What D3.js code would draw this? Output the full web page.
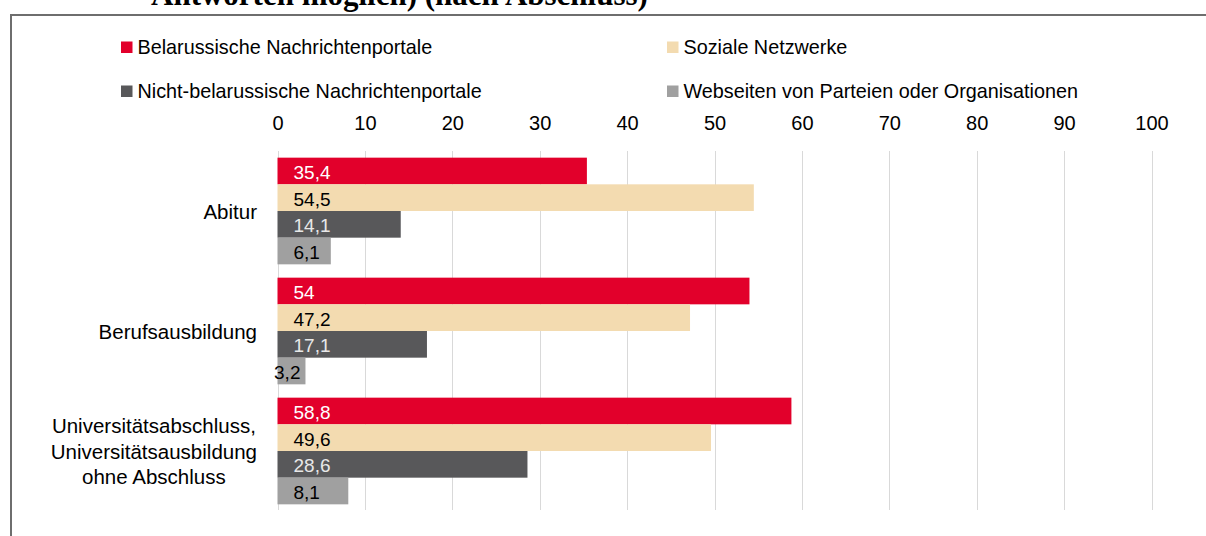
<!DOCTYPE html>
<html>
<head>
<meta charset="utf-8">
<script src="https://cdn.jsdelivr.net/npm/d3@7"></script>
<style>
  html, body { margin: 0; padding: 0; background: #fff; overflow: hidden; }
  svg { display: block; }
</style>
</head>
<body>
<svg id="chart" width="1206" height="536"></svg>
<script>
// ---- data ----
const titleText = "Antworten möglich) (nach Abschluss)";
const categories = [
  ["Abitur"],
  ["Berufsausbildung"],
  ["Universitätsabschluss,", "Universitätsausbildung", "ohne Abschluss"]
];
const seriesNames = [
  "Belarussische Nachrichtenportale",
  "Soziale Netzwerke",
  "Nicht-belarussische Nachrichtenportale",
  "Webseiten von Parteien oder Organisationen"
];
const belarusPortals = [35.4, 54, 58.8];
const socialNetworks = [54.5, 47.2, 49.6];
const foreignPortals = [14.1, 17.1, 28.6];
const partySites = [6.1, 3.2, 8.1];
const tickValues = [0, 10, 20, 30, 40, 50, 60, 70, 80, 90, 100];

const seriesValues = [belarusPortals, socialNetworks, foreignPortals, partySites];
const colors = ["#e2002b", "#f3dbb0", "#58585a", "#a0a0a0"];
const labelColors = ["#ffffff", "#000000", "#e8e8e8", "#000000"];

const FONT = "'Liberation Sans', Arial, sans-serif";
const svg = d3.select("#chart");

// title (clipped at top, as in the reference)
svg.append("text")
  .attr("x", 151).attr("y", 5)
  .attr("font-family", "'Liberation Serif', 'Times New Roman', serif")
  .attr("font-weight", "bold")
  .attr("font-size", 31)
  .attr("fill", "#000")
  .text(titleText);

// frame
svg.append("rect")
  .attr("x", 11).attr("y", 15)
  .attr("width", 1300).attr("height", 600)
  .attr("fill", "none")
  .attr("stroke", "#6e6e6e")
  .attr("stroke-width", 2);

// scales
const x = d3.scaleLinear().domain([0, 100]).range([277.5, 1151.5]);
const y0 = d3.scaleBand().domain(d3.range(categories.length))
  .range([151, 511]).paddingInner(0.111).paddingOuter(0.0555);
const y1 = d3.scaleBand().domain(d3.range(seriesNames.length))
  .range([0, y0.bandwidth()]);

// gridlines
svg.append("g").selectAll("line").data(tickValues).join("line")
  .attr("x1", d => Math.round(x(d)) + 0.5).attr("x2", d => Math.round(x(d)) + 0.5)
  .attr("y1", 151).attr("y2", 510)
  .attr("stroke", "#d9d9d9").attr("stroke-width", 1);

// top axis
const axis = d3.axisTop(x).tickValues(tickValues).tickSize(0).tickPadding(0)
  .tickFormat(d => String(d));
const ag = svg.append("g").attr("transform", "translate(0,130)").call(axis);
ag.select(".domain").remove();
ag.selectAll("text")
  .attr("font-family", FONT).attr("font-size", 20).attr("fill", "#000")
  .attr("dy", 0).attr("y", 0);

// bars
const fmt = v => String(v).replace(".", ",");
const groups = svg.append("g").selectAll("g").data(categories).join("g")
  .attr("transform", (d, i) => `translate(0,${y0(i)})`);

groups.each(function(cat, ci) {
  const g = d3.select(this);
  seriesValues.forEach((vals, si) => {
    const v = vals[ci];
    g.append("rect")
      .attr("x", x(0))
      .attr("y", y1(si))
      .attr("width", x(v) - x(0))
      .attr("height", y1.bandwidth())
      .attr("fill", colors[si]);
  });
  seriesValues.forEach((vals, si) => {
    const v = vals[ci];
    const small = v < 5;
    g.append("text")
      .attr("x", small ? x(v) - 5 : x(0) + 16)
      .attr("y", y1(si) + y1.bandwidth() / 2 + 8)
      .attr("text-anchor", small ? "end" : "start")
      .attr("font-family", FONT).attr("font-size", 19)
      .attr("fill", labelColors[si])
      .text(fmt(v));
  });
});

// category labels
categories.forEach((lines, ci) => {
  const cy = y0(ci) + y0.bandwidth() / 2;
  const lh = 25.5;
  const t = svg.append("text")
    .attr("font-family", FONT).attr("font-size", 20.5).attr("fill", "#000");
  if (lines.length === 1) {
    t.attr("x", 257).attr("y", cy + 7.5).attr("text-anchor", "end").text(lines[0]);
  } else {
    t.attr("text-anchor", "middle");
    const startY = cy + 7.5 - lh * (lines.length - 1) / 2;
    lines.forEach((ln, li) => {
      t.append("tspan").attr("x", 0).attr("y", startY + li * lh).text(ln);
    });
    let w = 0;
    t.selectAll("tspan").each(function() { w = Math.max(w, this.getComputedTextLength()); });
    t.selectAll("tspan").attr("x", 257 - w / 2);
  }
});

// legend
const legendPos = [
  { x: 121, y: 47 }, { x: 667, y: 47 },
  { x: 121, y: 91 }, { x: 667, y: 91 }
];
seriesNames.forEach((name, i) => {
  const p = legendPos[i];
  svg.append("rect")
    .attr("x", p.x).attr("y", p.y - 5.5)
    .attr("width", 11.5).attr("height", 11.5)
    .attr("fill", colors[i]);
  svg.append("text")
    .attr("x", p.x + 16.5).attr("y", p.y + 7)
    .attr("font-family", FONT).attr("font-size", 19.8).attr("fill", "#000")
    .text(name);
});
</script>
</body>
</html>
